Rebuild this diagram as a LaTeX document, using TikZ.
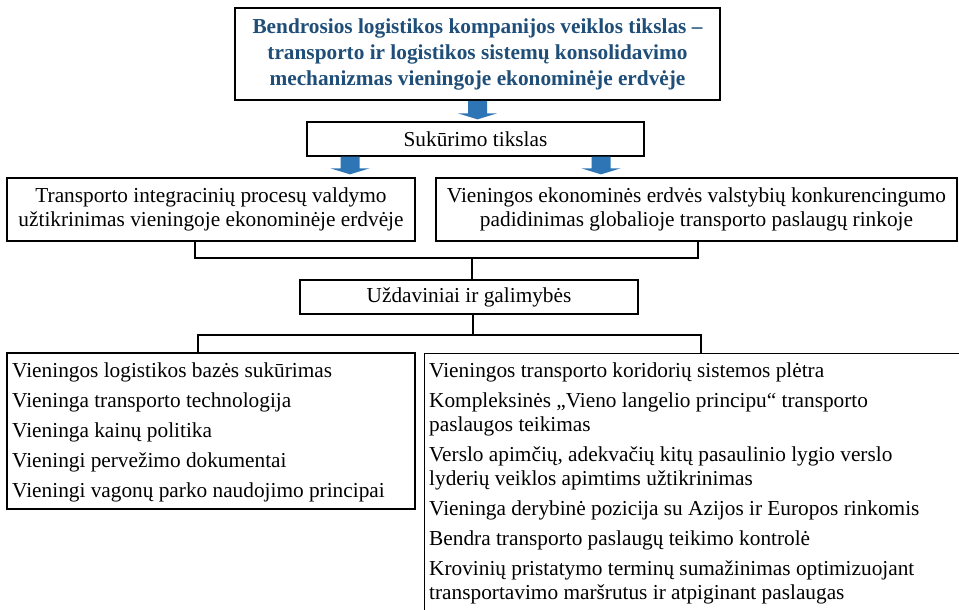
\documentclass[tikz,border=0pt]{standalone}
\usepackage{fontspec}
\setmainfont{Liberation Serif}
\usetikzlibrary{calc}
\definecolor{titleblue}{RGB}{31,78,121}
\definecolor{arrowblue}{RGB}{46,117,182}
\newcommand\bluearrow[2]{%
  \fill[arrowblue] let \p1=(#1), \p2=(#2) in
    (\x1-9.5pt,\y1) -- (\x1-9.5pt,\y2+6pt) -- (\x1-19.5pt,\y2+6pt) -- (\x1,\y2)
    -- (\x1+19.5pt,\y2+6pt) -- (\x1+9.5pt,\y2+6pt) -- (\x1+9.5pt,\y1) -- cycle;}
\begin{document}
\begin{tikzpicture}[x=1pt,y=-1pt,
  box/.style={draw, line width=1.3pt, inner sep=0pt, align=center,
              font=\fontsize{21.3}{24}\selectfont},
  listtext/.style={inner sep=0pt, align=left, font=\fontsize{21.3}{24}\selectfont},
  conn/.style={line width=1.4pt}]
\useasboundingbox (0,0) rectangle (959,610);
\fill[white] (0,0) rectangle (959,610);
\clip (0,0) rectangle (959,610);

\node[box, line width=2pt, text=titleblue, font=\bfseries\fontsize{21.3}{26}\selectfont,
      minimum width=485pt, minimum height=92pt] (top) at (477.5,54)
  {Bendrosios logistikos kompanijos veiklos tikslas –\\transporto ir logistikos sistemų konsolidavimo\\mechanizmas vieningoje ekonominėje erdvėje};
\node[box, minimum width=337pt, minimum height=34pt] (suk) at (475.5,139) {Sukūrimo tikslas};
\node[box, minimum width=408pt, minimum height=63pt] (l2) at (211,209.5)
  {Transporto integracinių procesų valdymo\\užtikrinimas vieningoje ekonominėje erdvėje};
\node[box, minimum width=521pt, minimum height=63pt] (r2) at (696.5,209.5)
  {Vieningos ekonominės erdvės valstybių konkurencingumo\\padidinimas globalioje transporto paslaugų rinkoje};
\node[box, minimum width=338pt, minimum height=34pt] (uzd) at (469,297) {Uždaviniai ir galimybės};
\node[box, minimum width=408pt, minimum height=156pt] (l3) at (211,431) {};
\node[box, anchor=north west, minimum width=580pt, minimum height=320pt] (r3) at (424,353) {};

\node[listtext, anchor=north west] (l3t) at (12,363)
  {Vieningos logistikos bazės sukūrimas\\[6pt]
   Vieninga transporto technologija\\[6pt]
   Vieninga kainų politika\\[6pt]
   Vieningi pervežimo dokumentai\\[6pt]
   Vieningi vagonų parko naudojimo principai};
\node[listtext, anchor=north west] (r3t) at (429,363)
  {Vieningos transporto koridorių sistemos plėtra\\[6pt]
   Kompleksinės „Vieno langelio principu“ transporto\\
   paslaugos teikimas\\[6pt]
   Verslo apimčių, adekvačių kitų pasaulinio lygio verslo\\
   lyderių veiklos apimtims užtikrinimas\\[6pt]
   Vieninga derybinė pozicija su Azijos ir Europos rinkomis\\[6pt]
   Bendra transporto paslaugų teikimo kontrolė\\[6pt]
   Krovinių pristatymo terminų sumažinimas optimizuojant\\
   transportavimo maršrutus ir atpiginant paslaugas};

% block arrows
\bluearrow{top.south}{[yshift=2pt]suk.north}
\coordinate (a1s) at ([xshift=-125.5pt]suk.south);
\coordinate (a2s) at ([xshift=125.5pt]suk.south);
\coordinate (a1e) at ([yshift=3pt]a1s |- l2.north);
\coordinate (a2e) at ([yshift=3pt]a2s |- r2.north);
\bluearrow{a1s}{a1e}
\bluearrow{a2s}{a2e}

% connectors
\coordinate (j1) at (472,258);
\coordinate (j2) at (473,335);
\draw[conn] ([xshift=-16pt]l2.south) |- (j1) -| ([xshift=1.5pt]r2.south);
\draw[conn] (j1) -- (j1 |- uzd.north);
\draw[conn] (j2 |- uzd.south) -- (j2);
\draw[conn] ([xshift=-13pt]l3.north) |- (j2) -| ([xshift=277pt]r3.north west);
\end{tikzpicture}
\end{document}
